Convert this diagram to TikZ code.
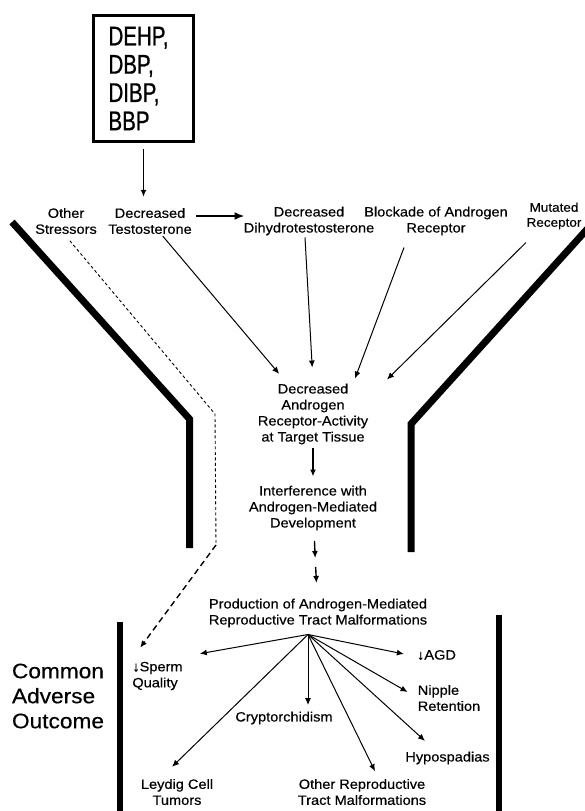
\documentclass[tikz,border=0pt]{standalone}
\usepackage{fontspec}
\setmainfont[FakeStretch=1.08,FakeBold=0.4]{Liberation Sans}
\newfontfamily\boxfont[FakeStretch=0.76,FakeBold=0.8]{Liberation Sans}
\usetikzlibrary{arrows.meta,calc}

\begin{document}
\begin{tikzpicture}[
  x=1pt,y=-1pt,
  every node/.style={align=center,inner sep=2pt,font=\fontsize{13.5}{16}\selectfont},
  arr/.style={-{Latex[length=7pt,width=6pt]},line width=1pt},
  wall/.style={line width=7pt},
  sidebar/.style={line width=6pt},
  ]
  \useasboundingbox (0,0) rectangle (584,811);

  % chemicals
  \node[draw,line width=2.6pt,minimum width=100pt,minimum height=126pt,
        text width=70pt,align=left,font=\boxfont\fontsize{27}{28.3}\selectfont]
    (chem) at (143.5,78.5) {DEHP,\\DBP,\\DIBP,\\BBP};

  % top row
  \node (os)  at (66,221)  {Other\\Stressors};
  \node (dt)  at (150,221) {Decreased\\Testosterone};
  \node (dht) at (309,221) {Decreased\\Dihydrotestosterone};
  \node (blk) at (436,221) {Blockade of Androgen\\Receptor};
  \node[font=\fontsize{12.5}{15}\selectfont] (mr) at (554,216) {Mutated\\Receptor};

  % middle chain
  \node (dart) at (313,414) {Decreased\\Androgen\\Receptor-Activity\\at Target Tissue};
  \node (ide)  at (313,508) {Interference with\\Androgen-Mediated\\Development};
  \node (pr)   at (318,613) {Production of Androgen-Mediated\\Reproductive Tract Malformations};

  % outcomes
  \node[align=left,font=\fontsize{21}{25}\selectfont] (cao) at (58,696) {Common\\Adverse\\Outcome};
  \node[align=left] (sq)  at (157.5,676) {↓Sperm\\Quality};
  \node (cr)  at (284,718) {Cryptorchidism};
  \node (agd) at (436.5,655) {↓AGD};
  \node[align=left] (nr) at (449,698) {Nipple\\Retention};
  \node (hy)  at (447.5,758) {Hypospadias};
  \node (ort) at (362,792) {Other Reproductive\\Tract Malformations};
  \node (lct) at (177,792) {Leydig Cell\\Tumors};

  % funnel and walls
  \draw[wall] (12,222) -- (189.5,419) -- (189.5,548);
  \draw[wall] (590,226) -- (411,424) -- (411,552);
  \draw[sidebar] (120,622) -- (120,815);
  \draw[sidebar] (499,615) -- (499,815);

  % upper arrows
  \draw[arr,line width=1.6pt,shorten <=6pt,shorten >=9pt] (chem.south) -- (chem.south |- dt.north);
  \draw[-{Latex[length=10pt,width=8pt]},line width=2.2pt]
    ([shift={(2.5,-5)}]dt.east) -- ([shift={(3,-5)}]dht.west);
  \draw[arr,shorten >=10pt] (dt) -- (dart);
  \draw[arr,shorten >=14pt] ([xshift=-4pt]dht.south) -- (dart.north);
  \draw[arr] ([shift={(-32,10)}]blk.south) -- ([shift={(42,-3)}]dart.north);
  \draw[arr] ([shift={(-28,11)}]mr.south) -- ([shift={(74,-2)}]dart.north);

  % other stressors
  \coordinate (d1) at (215,414);
  \coordinate (d2) at (216,545);
  \draw[line width=0.9pt,dash pattern=on 3pt off 2.5pt,shorten <=6pt] (os.south) -- (d1) -- (d2);
  \draw[arr,line width=1.4pt,dash pattern=on 6pt off 4pt]
    (d2) -- ([shift={(10,-12)}]sq.north west);

  % central chain
  \coordinate (mid) at ($(ide.south)!0.5!(pr.north)$);
  \draw[arr,line width=1.4pt,shorten <=2pt,shorten >=7pt] (dart) -- (ide);
  \draw[arr,line width=1.4pt,shorten <=8.5pt,shorten >=6.5pt] (ide) -- (mid);
  \draw[arr,line width=1.4pt,shorten <=2.5pt,shorten >=13.5pt] (mid) -- (pr);

  % fan of outcomes
  \coordinate (fan) at ([shift={(-10,5)}]pr.south);
  \draw[arr] (fan) -- ([shift={(15,-6)}]sq.north east);
  \draw[arr,shorten >=4.5pt] (fan) -- (fan |- cr.north);
  \draw[arr] (fan) -- ([shift={(-11,-1)}]agd.west);
  \draw[arr] (fan) -- ([shift={(-8,-6)}]nr.west);
  \draw[arr] (fan) -- ([shift={(-22.5,-8.6)}]hy.north);
  \draw[arr] (fan) -- ([shift={(13,-5.6)}]ort.north);
  \draw[arr] (fan) -- ([shift={(-5,-10)}]lct.north);
\end{tikzpicture}
\end{document}
